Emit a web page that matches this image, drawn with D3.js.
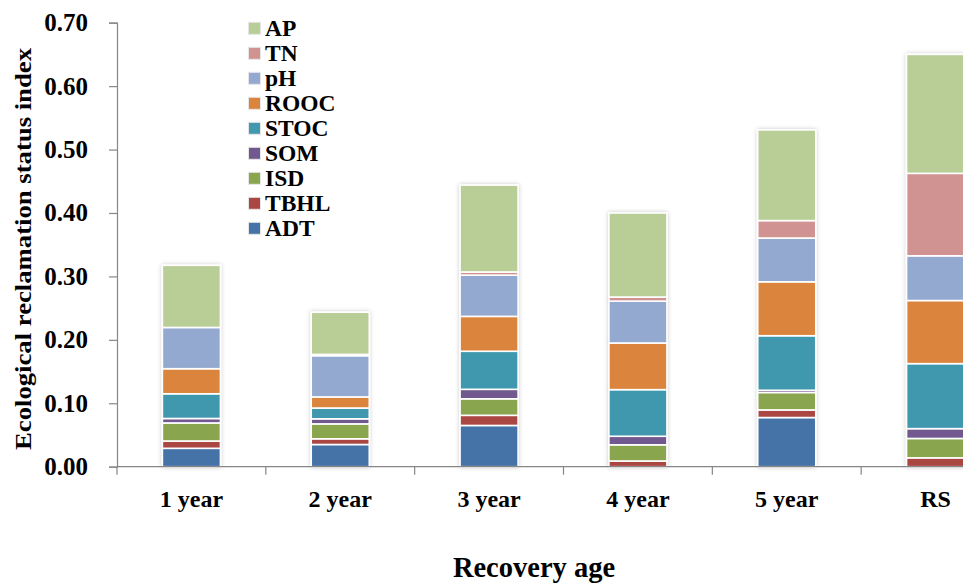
<!DOCTYPE html>
<html><head><meta charset="utf-8">
<script src="https://cdn.jsdelivr.net/npm/d3@7"></script>
<style>
body{margin:0;background:#fff;}
svg{display:block;}
text{font-family:"Liberation Serif","Times New Roman",serif;font-weight:bold;fill:#000;}
</style></head>
<body>
<svg id="chart" width="963" height="583"></svg>
<script>
const categories = ["1 year","2 year","3 year","4 year","5 year","RS"];
const seriesNames = ["ADT","TBHL","ISD","SOM","STOC","ROOC","pH","TN","AP"];
const ADT  = [0.029, 0.035, 0.065, 0.000, 0.0775, 0.000];
const TBHL = [0.0115,0.009, 0.016, 0.009, 0.012, 0.014];
const ISD  = [0.0285,0.0235,0.026, 0.0255,0.0275,0.0305];
const SOM  = [0.007, 0.008, 0.015, 0.0135,0.0035,0.0155];
const STOC = [0.039, 0.017, 0.060, 0.0735,0.086, 0.1025];
const ROOC = [0.0395,0.0175,0.055, 0.0735,0.085, 0.0995];
const pH   = [0.065, 0.065, 0.065, 0.066, 0.069, 0.0705];
const TN   = [0.000, 0.002, 0.005, 0.0065,0.0275,0.130];
const AP   = [0.098, 0.0665,0.137, 0.1325,0.143, 0.1875];
const yTicks = [0,0.1,0.2,0.3,0.4,0.5,0.6,0.7];
const colors = ["#4572A7","#AA4643","#89A54E","#71588F","#4198AF","#DB843D","#93A9CF","#D19392","#B9CD96"];

(function(){
const seriesVals = {ADT,TBHL,ISD,SOM,STOC,ROOC,pH,TN,AP};
const table = categories.map((c,i)=>{const o={cat:c}; seriesNames.forEach(s=>o[s]=seriesVals[s][i]); return o;});
const stack = d3.stack().keys(seriesNames)(table);

const svg = d3.select("#chart");
const pLeft=117, pRight=1010, pTop=22.7, pBottom=466.7;
const x = d3.scaleBand().domain(categories).range([pLeft,pRight]).paddingInner(0.61).paddingOuter(0.305);
const y = d3.scaleLinear().domain([0,0.7]).range([pBottom,pTop]);
const color = d3.scaleOrdinal().domain(seriesNames).range(colors);

const defs = svg.append("defs");
const f = defs.append("filter").attr("id","sh").attr("x","-20%").attr("y","-5%").attr("width","140%").attr("height","110%");
f.append("feDropShadow").attr("dx",0).attr("dy",0).attr("stdDeviation",2).attr("flood-color","#000").attr("flood-opacity",0.22);

const axisColor="#868686";
const yAxis = svg.append("g").attr("transform",`translate(${pLeft},0)`)
  .call(d3.axisLeft(y).tickValues(yTicks).tickSize(8).tickFormat(d3.format(".2f")));
yAxis.select(".domain").attr("stroke",axisColor).attr("stroke-width",1.2);
yAxis.selectAll(".tick line").attr("stroke",axisColor).attr("stroke-width",1.2);
yAxis.selectAll(".tick text").attr("x",-29).attr("font-size",25).attr("font-family","Liberation Serif").attr("font-weight","bold").attr("fill","#000");

const bars = svg.append("g").attr("filter","url(#sh)");
bars.selectAll("g.s").data(stack).join("g").attr("class","s").attr("fill",d=>color(d.key))
  .selectAll("rect").data(d=>d).join("rect")
  .attr("x",d=>x(d.data.cat)).attr("width",x.bandwidth())
  .attr("y",d=>y(d[1])).attr("height",d=>Math.max(0,y(d[0])-y(d[1])))
  .attr("stroke","#fff").attr("stroke-width",1.6);

const step = x.step();
const xg = svg.append("g");
xg.append("line").attr("x1",pLeft).attr("x2",pRight).attr("y1",pBottom).attr("y2",pBottom).attr("stroke",axisColor).attr("stroke-width",1.2);
const bounds = categories.map(c=>x(c)-step*0.305).concat([x(categories[categories.length-1])+x.bandwidth()+step*0.305]);
xg.selectAll("line.t").data(bounds).join("line").attr("class","t")
  .attr("x1",d=>d).attr("x2",d=>d).attr("y1",pBottom).attr("y2",pBottom+8).attr("stroke",axisColor).attr("stroke-width",1.2);
xg.selectAll("text").data(categories).join("text")
  .attr("x",d=>x(d)+x.bandwidth()/2).attr("y",507).attr("text-anchor","middle").attr("font-size",24).text(d=>d);

svg.append("text").attr("x",534).attr("y",576.5).attr("text-anchor","middle").attr("font-size",28.5).text("Recovery age");
svg.append("text").attr("transform","translate(31,249) rotate(-90)").attr("text-anchor","middle")
  .attr("font-size",24).attr("textLength",402).attr("lengthAdjust","spacingAndGlyphs").text("Ecological reclamation status index");

const legendItems = seriesNames.slice().reverse();
const lg = svg.append("g");
legendItems.forEach((s,i)=>{
  const cy = 28.3 + i*25;
  lg.append("rect").attr("x",248.5).attr("y",cy-6).attr("width",12).attr("height",12).attr("fill",color(s))
    .attr("stroke","#e6e6e6").attr("stroke-width",1);
  lg.append("text").attr("x",265).attr("y",cy+7.5).attr("font-size",23.5).text(s);
});
})();
</script>
</body></html>
